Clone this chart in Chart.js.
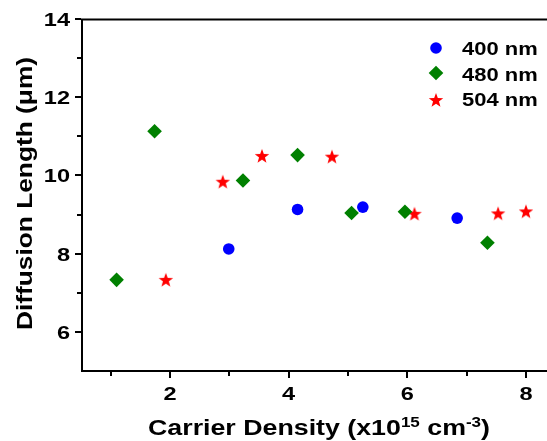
<!DOCTYPE html>
<html>
<head>
<meta charset="utf-8">
<script src="https://cdn.jsdelivr.net/npm/chart.js@4/dist/chart.umd.min.js"></script>
<style>
  html, body { margin: 0; padding: 0; background: #ffffff; }
  #wrap { width: 547px; height: 441px; }
</style>
</head>
<body>
<div id="wrap"><canvas id="c" width="547" height="441"></canvas></div>
<script>
// ---- data ----
const seriesNames = ['400 nm', '480 nm', '504 nm'];
const x400 = [2.99, 4.15, 5.25, 6.84];
const y400 = [8.12, 9.13, 9.19, 8.91];
const x480 = [1.10, 1.74, 3.23, 4.15, 5.06, 5.96, 7.35];
const y480 = [7.33, 11.13, 9.87, 10.52, 9.04, 9.07, 8.28];
const x504 = [1.93, 2.89, 3.55, 4.73, 6.12, 7.53, 8.00];
const y504 = [7.33, 9.84, 10.50, 10.48, 9.02, 9.03, 9.08];

const xTickValues = [1, 2, 3, 4, 5, 6, 7, 8];
const xTickLabels = ['', '2', '', '4', '', '6', '', '8'];
const yTickValues = [6, 7, 8, 9, 10, 11, 12, 13, 14];
const yTickLabels = ['6', '', '8', '', '10', '', '12', '', '14'];

const xTitleParts = [
  { t: 'Carrier Density (x10', sup: false },
  { t: '15', sup: true },
  { t: ' cm', sup: false },
  { t: '-3', sup: true },
  { t: ')', sup: false }
];
const yTitle = 'Diffusion Length (\u03bcm)';

const colors = ['#0000ff', '#008000', '#ff0000'];

function toPoints(xs, ys) { return xs.map((x, i) => ({ x: x, y: ys[i] })); }

// filled five-pointed star marker
function starPath(ctx, cx, cy, ro, ri) {
  ctx.beginPath();
  for (let i = 0; i < 10; i++) {
    const r = i % 2 === 0 ? ro : ri;
    const a = -Math.PI / 2 + i * Math.PI / 5;
    const px = cx + r * Math.cos(a), py = cy + r * Math.sin(a);
    if (i === 0) ctx.moveTo(px, py); else ctx.lineTo(px, py);
  }
  ctx.closePath();
}
const starImg = document.createElement('canvas');
starImg.width = 18; starImg.height = 18;
(function () {
  const g = starImg.getContext('2d');
  g.fillStyle = colors[2];
  starPath(g, 9, 9.6, 7.6, 3.1);
  g.fill();
})();

const FONT = '"Liberation Sans", Arial, sans-serif';

function stretchedText(ctx, text, x, y, size, align, sx) {
  ctx.save();
  ctx.font = 'bold ' + size + 'px ' + FONT;
  ctx.textAlign = align;
  ctx.textBaseline = 'alphabetic';
  ctx.translate(x, y);
  ctx.scale(sx, 1);
  ctx.fillText(text, 0, 0);
  ctx.restore();
}

const axesPlugin = {
  id: 'axesPlugin',
  beforeDatasetsDraw(chart) {
    const ctx = chart.ctx;
    const a = chart.chartArea;
    const xs = chart.scales.x, ys = chart.scales.y;
    ctx.save();
    ctx.strokeStyle = '#000';
    ctx.lineWidth = 2;
    ctx.lineCap = 'butt';
    // axis lines
    ctx.beginPath();
    ctx.moveTo(a.left + 1, a.top);
    ctx.lineTo(a.left + 1, a.bottom + 1);
    ctx.moveTo(a.left, a.bottom);
    ctx.lineTo(a.right, a.bottom);
    ctx.moveTo(a.left, a.top + 0.5);
    ctx.lineTo(a.right, a.top + 0.5);
    ctx.stroke();
    // y ticks
    yTickValues.forEach((v, i) => {
      const py = Math.round(ys.getPixelForValue(v));
      const len = yTickLabels[i] ? 6 : 4;
      ctx.beginPath();
      ctx.moveTo(a.left, py);
      ctx.lineTo(a.left - len, py);
      ctx.stroke();
    });
    // x ticks
    xTickValues.forEach((v, i) => {
      const px = Math.round(xs.getPixelForValue(v));
      const len = xTickLabels[i] ? 6 : 4;
      ctx.beginPath();
      ctx.moveTo(px, a.bottom);
      ctx.lineTo(px, a.bottom + 1 + len);
      ctx.stroke();
    });
    ctx.restore();
  },
  afterDraw(chart) {
    const ctx = chart.ctx;
    const a = chart.chartArea;
    const xs = chart.scales.x, ys = chart.scales.y;
    ctx.save();
    ctx.fillStyle = '#000';
    // y tick labels
    yTickValues.forEach((v, i) => {
      if (!yTickLabels[i]) return;
      const py = ys.getPixelForValue(v);
      stretchedText(ctx, yTickLabels[i], a.left - 11, py + 7, 19, 'right', 1.24);
    });
    // x tick labels
    xTickValues.forEach((v, i) => {
      if (!xTickLabels[i]) return;
      const px = xs.getPixelForValue(v);
      stretchedText(ctx, xTickLabels[i], px, a.bottom + 29, 19, 'center', 1.24);
    });

    // x title with superscripts, fitted to the reference width
    const mainSize = 22, supSize = 14;
    let total = 0;
    xTitleParts.forEach(p => {
      ctx.font = 'bold ' + (p.sup ? supSize : mainSize) + 'px ' + FONT;
      p.w = ctx.measureText(p.t).width;
      total += p.w;
    });
    const sxX = 342 / total;
    let cx = 148;
    xTitleParts.forEach(p => {
      stretchedText(ctx, p.t, cx, p.sup ? 427 : 435, p.sup ? supSize : mainSize, 'left', sxX);
      cx += p.w * sxX;
    });

    // y title rotated
    ctx.font = 'bold 22px ' + FONT;
    const wY = ctx.measureText(yTitle).width;
    const sxY = 273 / wY;
    ctx.save();
    ctx.translate(32, 330);
    ctx.rotate(-Math.PI / 2);
    stretchedText(ctx, yTitle, 0, 0, 22, 'left', sxY);
    ctx.restore();

    // legend
    const lx = 436, tx = 462;
    const rowsMarker = [48, 73, 100];
    const rowsText = [55, 81, 106];
    ctx.fillStyle = colors[0];
    ctx.beginPath();
    ctx.arc(lx, rowsMarker[0], 5.8, 0, Math.PI * 2);
    ctx.fill();
    ctx.fillStyle = colors[1];
    ctx.beginPath();
    ctx.moveTo(lx - 7.3, rowsMarker[1]);
    ctx.lineTo(lx, rowsMarker[1] - 7.3);
    ctx.lineTo(lx + 7.3, rowsMarker[1]);
    ctx.lineTo(lx, rowsMarker[1] + 7.3);
    ctx.closePath();
    ctx.fill();
    ctx.drawImage(starImg, lx - 9, rowsMarker[2] - 9);
    ctx.fillStyle = '#000';
    seriesNames.forEach((n, i) => {
      stretchedText(ctx, n, tx, rowsText[i], 18, 'left', 1.22);
    });
    ctx.restore();
  }
};

new Chart(document.getElementById('c'), {
  type: 'scatter',
  data: {
    datasets: [
      { label: seriesNames[0], data: toPoints(x400, y400), pointStyle: 'circle',
        pointRadius: 5.8, backgroundColor: colors[0], borderColor: colors[0], borderWidth: 0 },
      { label: seriesNames[1], data: toPoints(x480, y480), pointStyle: 'rectRot',
        pointRadius: 7.3, backgroundColor: colors[1], borderColor: colors[1], borderWidth: 0 },
      { label: seriesNames[2], data: toPoints(x504, y504), pointStyle: starImg,
        pointRadius: 8, backgroundColor: colors[2], borderColor: colors[2], borderWidth: 0 }
    ]
  },
  options: {
    responsive: false,
    animation: false,
    events: [],
    layout: { autoPadding: false, padding: { top: 19, right: 0, left: 0, bottom: 0 } },
    plugins: { legend: { display: false }, tooltip: { enabled: false } },
    scales: {
      x: {
        type: 'linear', min: 0.5, max: 8.354,
        grid: { display: false }, border: { display: false },
        ticks: { display: false },
        afterFit(s) { s.height = 70; }
      },
      y: {
        type: 'linear', min: 5, max: 14,
        grid: { display: false }, border: { display: false },
        ticks: { display: false },
        afterFit(s) { s.width = 81; }
      }
    }
  },
  plugins: [axesPlugin]
});
</script>
</body>
</html>
